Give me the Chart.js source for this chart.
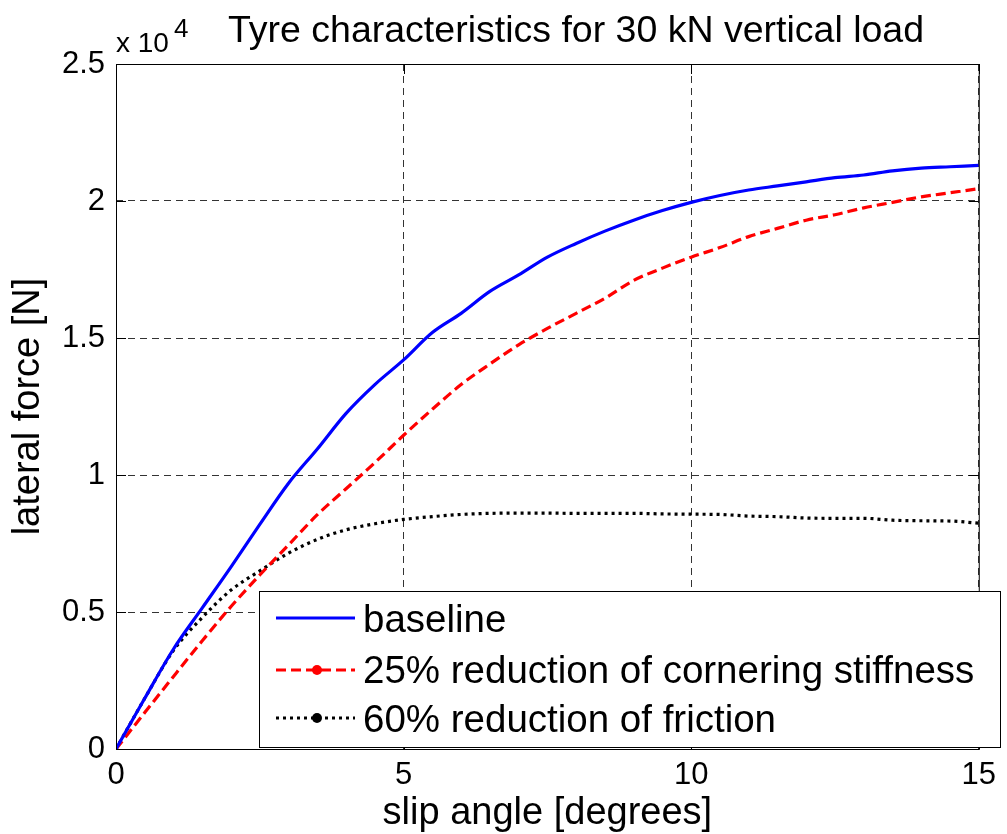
<!DOCTYPE html>
<html lang="en">
<head>
  <meta charset="UTF-8">
  <title>Tyre characteristics for 30 kN vertical load</title>
  <style>
    html, body {
      margin: 0;
      padding: 0;
      background: #fff;
    }
    .chart-box {
      position: relative;
      width: 1007px;
      height: 834px;
    }
  </style>
  <script src="https://cdn.jsdelivr.net/npm/chart.js"></script>
</head>
<body>
<div class="chart-box">
  <canvas id="tyreChart"></canvas>
</div>

<script>
  // slip angle [deg] and lateral force [N]
  const slipAngle = [0, 0.5, 1, 1.5, 2, 2.5, 3, 3.5, 4, 4.5, 5, 5.5, 6, 6.5, 7, 7.5,
    8, 8.5, 9, 9.5, 10, 10.5, 11, 11.5, 12, 12.5, 13, 13.5, 14, 14.5, 15];

  const baseline = [0, 1850, 3650, 5150, 6650, 8200, 9700, 10950, 12250, 13300, 14200,
    15200, 15900, 16700, 17300, 17950, 18450, 18900, 19300, 19650, 19950, 20200,
    20400, 20550, 20700, 20850, 20950, 21100, 21200, 21250, 21300];

  const reducedStiffness = [0, 1330, 2650, 3950, 5200, 6350, 7450, 8550, 9500, 10450,
    11450, 12400, 13300, 14050, 14750, 15350, 15900, 16450, 17100, 17550, 17950,
    18300, 18700, 19000, 19300, 19500, 19750, 19950, 20150, 20300, 20450];

  const reducedFriction = [0, 1850, 3600, 4800, 5800, 6500, 7150, 7650, 8000, 8220,
    8380, 8480, 8560, 8600, 8610, 8610, 8600, 8600, 8600, 8580, 8570, 8560, 8500,
    8480, 8430, 8420, 8420, 8350, 8330, 8320, 8240];

  const seriesLabels = [
    'baseline',
    '25% reduction of cornering stiffness',
    '60% reduction of friction'
  ];

  const FONT = '"Liberation Sans", Arial, Helvetica, sans-serif';

  function toPoints(ys) {
    return slipAngle.map((x, i) => ({ x: x, y: ys[i] }));
  }

  // box, inner tick marks, legend and title drawn like the matlab figure
  const matlabFrame = {
    id: 'matlabFrame',
    afterDatasetsDraw(chart) {
      const { ctx, chartArea: a, scales } = chart;
      const tick = 10;
      ctx.save();
      ctx.strokeStyle = '#000';
      ctx.lineWidth = 1;
      ctx.setLineDash([]);

      ctx.strokeRect(a.left + 0.5, a.top + 0.5, a.right - a.left, a.bottom - a.top);

      ctx.beginPath();
      scales.x.ticks.forEach(t => {
        const px = Math.round(scales.x.getPixelForValue(t.value)) + 0.5;
        ctx.moveTo(px, a.bottom); ctx.lineTo(px, a.bottom - tick);
        ctx.moveTo(px, a.top); ctx.lineTo(px, a.top + tick);
      });
      scales.y.ticks.forEach(t => {
        const py = Math.round(scales.y.getPixelForValue(t.value)) + 0.5;
        ctx.moveTo(a.left, py); ctx.lineTo(a.left + tick, py);
        ctx.moveTo(a.right, py); ctx.lineTo(a.right - tick, py);
      });
      ctx.stroke();

      // legend
      const box = { left: 259, top: 591, right: 1000, bottom: 747 };
      ctx.fillStyle = '#fff';
      ctx.fillRect(box.left, box.top, box.right - box.left, box.bottom - box.top);
      ctx.strokeRect(box.left + 0.5, box.top + 0.5, box.right - box.left, box.bottom - box.top);

      const rowY = [618, 670, 718];
      const textBase = [632, 683, 732];
      ctx.font = '38.5px ' + FONT;
      ctx.textAlign = 'left';
      ctx.textBaseline = 'alphabetic';
      chart.data.datasets.forEach((ds, i) => {
        ctx.strokeStyle = ds.borderColor;
        ctx.lineWidth = ds.borderWidth;
        ctx.setLineDash(ds.borderDash || []);
        ctx.beginPath();
        ctx.moveTo(276, rowY[i]);
        ctx.lineTo(355, rowY[i]);
        ctx.stroke();
        if (ds.legendDot) {
          ctx.fillStyle = ds.borderColor;
          ctx.beginPath();
          ctx.arc(317, rowY[i], 5, 0, Math.PI * 2);
          ctx.fill();
        }
        ctx.fillStyle = '#000';
        ctx.fillText(ds.label, 363, textBase[i]);
      });
      ctx.restore();
    },
    afterDraw(chart) {
      const { ctx } = chart;
      ctx.save();
      ctx.fillStyle = '#000';
      ctx.textBaseline = 'alphabetic';
      ctx.textAlign = 'center';
      ctx.font = '37.5px ' + FONT;
      ctx.fillText('Tyre characteristics for 30 kN vertical load', 576, 42);

      ctx.textAlign = 'left';
      ctx.font = '28px ' + FONT;
      ctx.fillText('x 10', 116, 52);
      ctx.font = '26px ' + FONT;
      ctx.fillText('4', 174, 37);
      ctx.restore();
    }
  };

  const config = {
    type: 'line',
    data: {
      datasets: [
        {
          label: seriesLabels[0],
          data: toPoints(baseline),
          borderColor: '#0000ff',
          borderWidth: 3.2,
          pointRadius: 0,
          cubicInterpolationMode: 'monotone',
          fill: false
        },
        {
          label: seriesLabels[1],
          data: toPoints(reducedStiffness),
          borderColor: '#ff0000',
          borderWidth: 3.2,
          borderDash: [10, 5],
          pointRadius: 0,
          cubicInterpolationMode: 'monotone',
          legendDot: true,
          fill: false
        },
        {
          label: seriesLabels[2],
          data: toPoints(reducedFriction),
          borderColor: '#000000',
          borderWidth: 3.2,
          borderDash: [3, 4],
          pointRadius: 0,
          cubicInterpolationMode: 'monotone',
          legendDot: true,
          fill: false
        }
      ]
    },
    options: {
      responsive: true,
      maintainAspectRatio: false,
      animation: false,
      layout: {
        padding: { top: 64, right: 20, bottom: 0, left: 0 }
      },
      plugins: {
        legend: { display: false },
        tooltip: { enabled: false }
      },
      scales: {
        x: {
          type: 'linear',
          min: 0,
          max: 15,
          ticks: {
            stepSize: 5,
            color: '#000',
            padding: 11,
            maxRotation: 0,
            font: { family: FONT, size: 31, lineHeight: 1 }
          },
          grid: {
            color: 'rgba(0,0,0,0.8)',
            lineWidth: 1,
            drawTicks: false
          },
          border: { display: false, dash: [7, 5] },
          title: {
            display: true,
            text: 'slip angle [degrees]',
            color: '#000',
            padding: { top: 0, bottom: 1 },
            font: { family: FONT, size: 38, lineHeight: 1 }
          },
          afterFit(scale) { scale.height = 85; }
        },
        y: {
          min: 0,
          max: 25000,
          ticks: {
            stepSize: 5000,
            color: '#000',
            padding: 11,
            font: { family: FONT, size: 31, lineHeight: 1 },
            callback: v => String(v / 10000)
          },
          grid: {
            color: 'rgba(0,0,0,0.8)',
            lineWidth: 1,
            drawTicks: false
          },
          border: { display: false, dash: [7, 5] },
          title: {
            display: true,
            text: 'lateral force [N]',
            color: '#000',
            padding: { top: 10, bottom: 0 },
            font: { family: FONT, size: 38, lineHeight: 1 }
          },
          afterFit(scale) { scale.width = 116; }
        }
      }
    },
    plugins: [matlabFrame]
  };

  new Chart(document.getElementById('tyreChart').getContext('2d'), config);
</script>
</body>
</html>
